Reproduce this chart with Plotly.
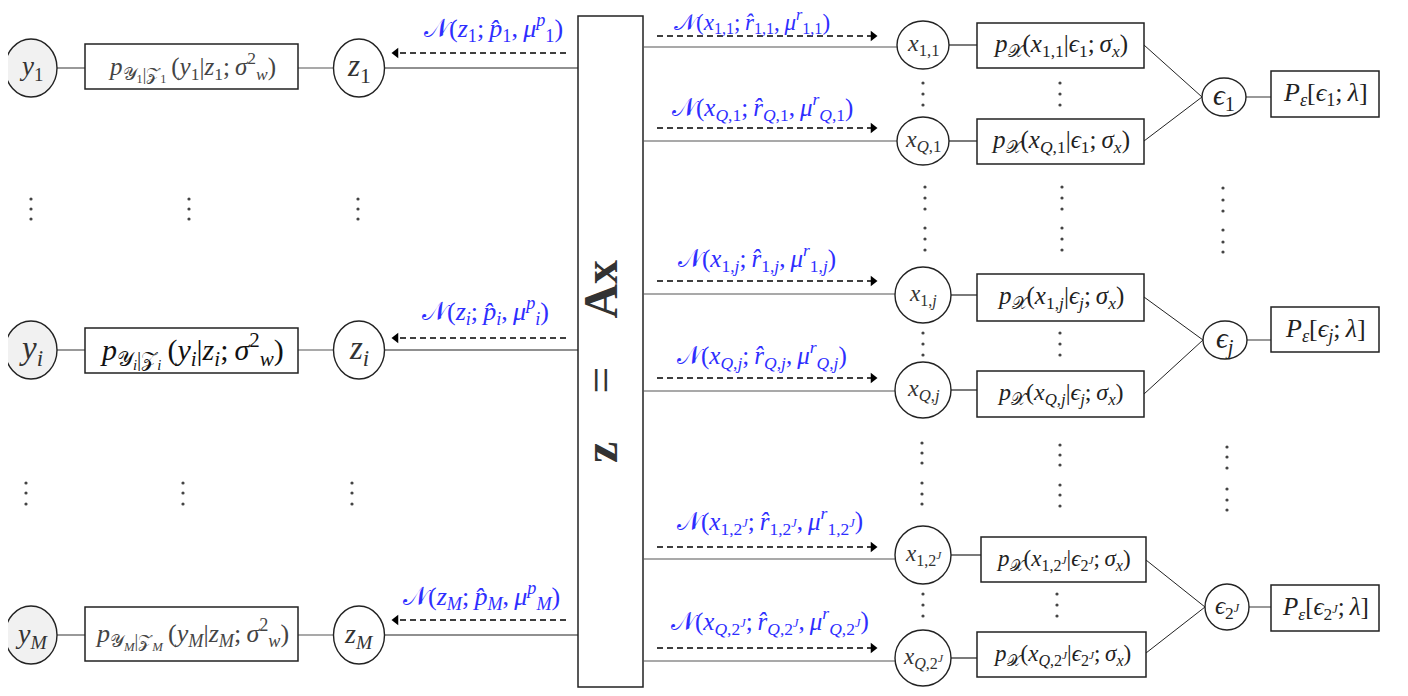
import plotly.graph_objects as go

TS = "\u2009"  # thin space used to imitate TeX math spacing

# ---------------- text content (data) ----------------
Y_NODES = ["<i>y</i><sub>1</sub>", "<i>y<sub>i</sub></i>", "<i>y<sub>M</sub></i>"]
LIKELIHOODS = [
    "<i>p</i><sub>𝒴<sub>1</sub>|𝒵<sub>1</sub></sub>" + TS + "(<i>y</i><sub>1</sub>|<i>z</i><sub>1</sub>;" + TS + "<i>σ</i><sup>2</sup><sub><i>w</i></sub>)",
    "<i>p</i><sub>𝒴<sub><i>i</i></sub>|𝒵<sub><i>i</i></sub></sub>" + TS + "(<i>y<sub>i</sub></i>|<i>z<sub>i</sub></i>;" + TS + "<i>σ</i><sup>2</sup><sub><i>w</i></sub>)",
    "<i>p</i><sub>𝒴<sub><i>M</i></sub>|𝒵<sub><i>M</i></sub></sub>" + TS + "(<i>y<sub>M</sub></i>|<i>z<sub>M</sub></i>;" + TS + "<i>σ</i><sup>2</sup><sub><i>w</i></sub>)",
]
Z_NODES = ["<i>z</i><sub>1</sub>", "<i>z<sub>i</sub></i>", "<i>z<sub>M</sub></i>"]
Z_MSGS = [
    "𝒩(<i>z</i><sub>1</sub>;" + TS + "<i>p̂</i><sub>1</sub>," + TS + "<i>μ</i><sup><i>p</i></sup><sub>1</sub>)",
    "𝒩(<i>z<sub>i</sub></i>;" + TS + "<i>p̂<sub>i</sub></i>," + TS + "<i>μ</i><sup><i>p</i></sup><sub><i>i</i></sub>)",
    "𝒩(<i>z<sub>M</sub></i>;" + TS + "<i>p̂<sub>M</sub></i>," + TS + "<i>μ</i><sup><i>p</i></sup><sub><i>M</i></sub>)",
]
CENTER_TEXT = "<b>z</b>    =    <b>Ax</b>"
X_NODES = [
    "<i>x</i><sub>1,1</sub>", "<i>x</i><sub><i>Q</i>,1</sub>",
    "<i>x</i><sub>1,<i>j</i></sub>", "<i>x</i><sub><i>Q</i>,<i>j</i></sub>",
    "<i>x</i><sub>1,2<sup><i>J</i></sup></sub>", "<i>x</i><sub><i>Q</i>,2<sup><i>J</i></sup></sub>",
]
X_MSGS = [
    "𝒩(<i>x</i><sub>1,1</sub>;" + TS + "<i>r̂</i><sub>1,1</sub>," + TS + "<i>μ</i><sup><i>r</i></sup><sub>1,1</sub>)",
    "𝒩(<i>x</i><sub><i>Q</i>,1</sub>;" + TS + "<i>r̂</i><sub><i>Q</i>,1</sub>," + TS + "<i>μ</i><sup><i>r</i></sup><sub><i>Q</i>,1</sub>)",
    "𝒩(<i>x</i><sub>1,<i>j</i></sub>;" + TS + "<i>r̂</i><sub>1,<i>j</i></sub>," + TS + "<i>μ</i><sup><i>r</i></sup><sub>1,<i>j</i></sub>)",
    "𝒩(<i>x</i><sub><i>Q</i>,<i>j</i></sub>;" + TS + "<i>r̂</i><sub><i>Q</i>,<i>j</i></sub>," + TS + "<i>μ</i><sup><i>r</i></sup><sub><i>Q</i>,<i>j</i></sub>)",
    "𝒩(<i>x</i><sub>1,2<sup><i>J</i></sup></sub>;" + TS + "<i>r̂</i><sub>1,2<sup><i>J</i></sup></sub>," + TS + "<i>μ</i><sup><i>r</i></sup><sub>1,2<sup><i>J</i></sup></sub>)",
    "𝒩(<i>x</i><sub><i>Q</i>,2<sup><i>J</i></sup></sub>;" + TS + "<i>r̂</i><sub><i>Q</i>,2<sup><i>J</i></sup></sub>," + TS + "<i>μ</i><sup><i>r</i></sup><sub><i>Q</i>,2<sup><i>J</i></sup></sub>)",
]
X_PRIORS = [
    "<i>p</i><sub>𝒳</sub>(<i>x</i><sub>1,1</sub>|<i>ϵ</i><sub>1</sub>;" + TS + "<i>σ<sub>x</sub></i>)",
    "<i>p</i><sub>𝒳</sub>(<i>x</i><sub><i>Q</i>,1</sub>|<i>ϵ</i><sub>1</sub>;" + TS + "<i>σ<sub>x</sub></i>)",
    "<i>p</i><sub>𝒳</sub>(<i>x</i><sub>1,<i>j</i></sub>|<i>ϵ<sub>j</sub></i>;" + TS + "<i>σ<sub>x</sub></i>)",
    "<i>p</i><sub>𝒳</sub>(<i>x</i><sub><i>Q</i>,<i>j</i></sub>|<i>ϵ<sub>j</sub></i>;" + TS + "<i>σ<sub>x</sub></i>)",
    "<i>p</i><sub>𝒳</sub>(<i>x</i><sub>1,2<sup><i>J</i></sup></sub>|<i>ϵ</i><sub>2<sup><i>J</i></sup></sub>;" + TS + "<i>σ<sub>x</sub></i>)",
    "<i>p</i><sub>𝒳</sub>(<i>x</i><sub><i>Q</i>,2<sup><i>J</i></sup></sub>|<i>ϵ</i><sub>2<sup><i>J</i></sup></sub>;" + TS + "<i>σ<sub>x</sub></i>)",
]
EPS_NODES = ["<i>ϵ</i><sub>1</sub>", "<i>ϵ<sub>j</sub></i>", "<i>ϵ</i><sub>2<sup><i>J</i></sup></sub>"]
EPS_PRIORS = [
    "<i>P</i><sub><i>ε</i></sub>[<i>ϵ</i><sub>1</sub>;" + TS + "<i>λ</i>]",
    "<i>P</i><sub><i>ε</i></sub>[<i>ϵ<sub>j</sub></i>;" + TS + "<i>λ</i>]",
    "<i>P</i><sub><i>ε</i></sub>[<i>ϵ</i><sub>2<sup><i>J</i></sup></sub>;" + TS + "<i>λ</i>]",
]

# ---------------- layout geometry (pixels of the page) ----------------
W, H, OFF = 1408, 696, 8
FONT = "Liberation Serif"
INK = "#222222"
EDGE = "#555555"
BLUE = "#2e2eff"

ROW_Y = [68, 350, 635]
Y_NODE_X, Y_RX, Y_RY = 31, 26, 29
Z_NODE_X, Z_RX, Z_RY = 359, 25.5, 29
LBOX_X = (85, 298)
LBOX_Y = [(44, 89), (328, 373), (607, 661)]
LARROW_Y = [53, 338, 620]
LARROW_X = (566, 392)
LLABEL_POS = [(493, 28), (485, 311), (481, 596)]
LMSG_FS = 26
LFS_Y = [27, 33, 28]
LFS_BOX = [25, 30, 26]
LFS_Z = [31, 33, 28]
LDOTS_X = [[31, 189, 358], [26, 183, 352]]
LDOTS_Y = [[199, 209, 219], [483, 493, 504]]

AX_BOX = (578, 643, 16, 687)
AX_TEXT_POS = (600, 362)
AX_FS = 48

XN_X = 923
XN_Y = [45, 141, 295, 390, 555, 658]
XN_RX = [26, 26, 28, 28, 28, 28]
XN_RY = [24, 24, 28, 28, 29, 28]
XLINE_Y = [47, 141, 294, 391, 559, 661]
XARROW_Y = [36, 128, 281, 378, 547, 648]
XARROW_X = (657, 877)
XLABEL_POS = [(752, 21), (762, 107), (757, 258), (762, 355), (770, 521), (770, 621)]
XMSG_FS = [23, 25, 25, 25, 25, 25]
XFS_NODE = [24, 24, 23, 24, 23, 23]
PX_X = [(977, 1144), (977, 1144), (977, 1144), (977, 1144), (981, 1146), (977, 1146)]
PX_Y = [(23, 68), (119, 164), (274, 321), (371, 417), (537, 582), (632, 677)]
PX_OUT_Y = [45, 141, 297, 394, 560, 653]
PX_FS = [25, 25, 25, 24, 23, 23]
EPS_C = [(1224, 97), (1225, 340), (1227, 607)]
EPS_RX = 22
EPS_RY = [19, 19, 23]
EPS_FS = [29, 29, 25]
PE_X = (1271, 1379)
PE_Y = [(71, 117), (307, 352), (585, 631)]
PE_FS = [26, 26, 25]
RDOTS_X = [[923, 1060], [923, 1060], [923, 1057]]
RDOTS_Y = [[83, 94, 105], [333, 344, 355], [594, 605, 616]]
VDOTS_X = [[925, 1062, 1223], [922, 1060, 1227]]
VDOTS_Y = [[[187, 198, 209, 228, 239, 250], [187, 198, 209, 228, 239, 250], [188, 200, 211, 230, 242, 252]],
           [[443, 453, 463, 483, 494, 504], [445, 455, 465, 485, 495, 506], [447, 457, 468, 489, 500, 510]]]

shapes = []
annots = []
dots_x, dots_y = [], []
arrows_l_x, arrows_l_y, arrows_r_x, arrows_r_y = [], [], [], []


def line(x0, y0, x1, y1, color=EDGE, width=1.2, dash=None):
    d = dict(type="line", x0=x0, y0=y0, x1=x1, y1=y1, xref="x", yref="y",
             line=dict(color=color, width=width))
    if dash:
        d["line"]["dash"] = dash
    shapes.append(d)


def ellipse(cx, cy, rx, ry, fill="white"):
    shapes.append(dict(type="circle", x0=cx - rx, x1=cx + rx, y0=cy - ry, y1=cy + ry,
                       xref="x", yref="y", fillcolor=fill, line=dict(color=INK, width=1.4)))


def rect(x0, x1, y0, y1, width=1.5):
    shapes.append(dict(type="rect", x0=x0, x1=x1, y0=y0, y1=y1, xref="x", yref="y",
                       fillcolor="white", line=dict(color=INK, width=width)))


def text(x, y, s, size, color=INK, angle=0):
    annots.append(dict(x=x, y=y, xref="x", yref="y", text=s, showarrow=False,
                       xanchor="center", yanchor="middle", textangle=angle,
                       font=dict(family=FONT, size=size, color=color)))


# ---------------- left part ----------------
for k, ry in enumerate(ROW_Y):
    line(Y_NODE_X + Y_RX, ry, LBOX_X[0], ry)
    line(LBOX_X[1], ry, Z_NODE_X - Z_RX, ry)
    line(Z_NODE_X + Z_RX, ry, AX_BOX[0], ry, color=INK)
    ellipse(Y_NODE_X, ry, Y_RX, Y_RY, fill="#f1f1f1")
    rect(LBOX_X[0], LBOX_X[1], LBOX_Y[k][0], LBOX_Y[k][1])
    ellipse(Z_NODE_X, ry, Z_RX, Z_RY)
    text(Y_NODE_X, ry, Y_NODES[k], LFS_Y[k], color="#333333")
    text((LBOX_X[0] + LBOX_X[1]) / 2, (LBOX_Y[k][0] + LBOX_Y[k][1]) / 2, LIKELIHOODS[k], LFS_BOX[k],
         color="#111111" if k == 1 else "#444444")
    text(Z_NODE_X, ry, Z_NODES[k], LFS_Z[k], color="#333333")
    ay = LARROW_Y[k]
    line(LARROW_X[0], ay, LARROW_X[1] + 6, ay, color="#000000", width=1.4, dash="6px,4px")
    arrows_l_x.append(LARROW_X[1] + 4)
    arrows_l_y.append(ay)
    text(LLABEL_POS[k][0], LLABEL_POS[k][1], Z_MSGS[k], LMSG_FS, color=BLUE)

for xs, ys in zip(LDOTS_X, LDOTS_Y):
    for x in xs:
        for y in ys:
            dots_x.append(x)
            dots_y.append(y)

# ---------------- center box ----------------
rect(AX_BOX[0], AX_BOX[1], AX_BOX[2], AX_BOX[3], width=1.5)
text(AX_TEXT_POS[0], AX_TEXT_POS[1], CENTER_TEXT, AX_FS, color="#333333", angle=-90)

# ---------------- right part ----------------
for k in range(6):
    g = k // 2
    line(AX_BOX[1], XLINE_Y[k], XN_X - XN_RX[k], XLINE_Y[k])
    line(XN_X + XN_RX[k], XN_Y[k], PX_X[k][0], XN_Y[k], color=INK)
    ex, ey = EPS_C[g]
    line(PX_X[k][1], PX_OUT_Y[k], ex - EPS_RX, ey, color=INK, width=1.0)
    ellipse(XN_X, XN_Y[k], XN_RX[k], XN_RY[k])
    rect(PX_X[k][0], PX_X[k][1], PX_Y[k][0], PX_Y[k][1])
    text(XN_X, XN_Y[k], X_NODES[k], XFS_NODE[k], color="#333333")
    text((PX_X[k][0] + PX_X[k][1]) / 2, (PX_Y[k][0] + PX_Y[k][1]) / 2, X_PRIORS[k], PX_FS[k])
    ay = XARROW_Y[k]
    line(XARROW_X[0], ay, XARROW_X[1] - 6, ay, color="#000000", width=1.4, dash="6px,4px")
    arrows_r_x.append(XARROW_X[1] - 4)
    arrows_r_y.append(ay)
    text(XLABEL_POS[k][0], XLABEL_POS[k][1], X_MSGS[k], XMSG_FS[k], color=BLUE)

for g in range(3):
    ex, ey = EPS_C[g]
    line(ex + EPS_RX, ey, PE_X[0], ey)
    ellipse(ex, ey, EPS_RX, EPS_RY[g])
    rect(PE_X[0], PE_X[1], PE_Y[g][0], PE_Y[g][1])
    text(ex, ey, EPS_NODES[g], EPS_FS[g])
    text((PE_X[0] + PE_X[1]) / 2, (PE_Y[g][0] + PE_Y[g][1]) / 2, EPS_PRIORS[g], PE_FS[g])
    for x in RDOTS_X[g]:
        for y in RDOTS_Y[g]:
            dots_x.append(x)
            dots_y.append(y)

for xs, yss in zip(VDOTS_X, VDOTS_Y):
    for x, ys in zip(xs, yss):
        for y in ys:
            dots_x.append(x)
            dots_y.append(y)

fig = go.Figure()
fig.add_trace(go.Scatter(x=dots_x, y=dots_y, mode="markers", hoverinfo="skip",
                         marker=dict(size=3.2, color="#444444"), cliponaxis=False))
fig.add_trace(go.Scatter(x=arrows_l_x, y=arrows_l_y, mode="markers", hoverinfo="skip",
                         marker=dict(symbol="triangle-left", size=9, color="#000000"), cliponaxis=False))
fig.add_trace(go.Scatter(x=arrows_r_x, y=arrows_r_y, mode="markers", hoverinfo="skip",
                         marker=dict(symbol="triangle-right", size=9, color="#000000"), cliponaxis=False))

fig.update_layout(
    width=W - 2 * OFF, height=H - 2 * OFF,
    margin=dict(l=0, r=0, t=0, b=0),
    paper_bgcolor="white", plot_bgcolor="white",
    showlegend=False,
    xaxis=dict(range=[OFF, W - OFF], visible=False, fixedrange=True),
    yaxis=dict(range=[H - OFF, OFF], visible=False, fixedrange=True),
    shapes=shapes, annotations=annots,
)
fig.write_html("out.html")
